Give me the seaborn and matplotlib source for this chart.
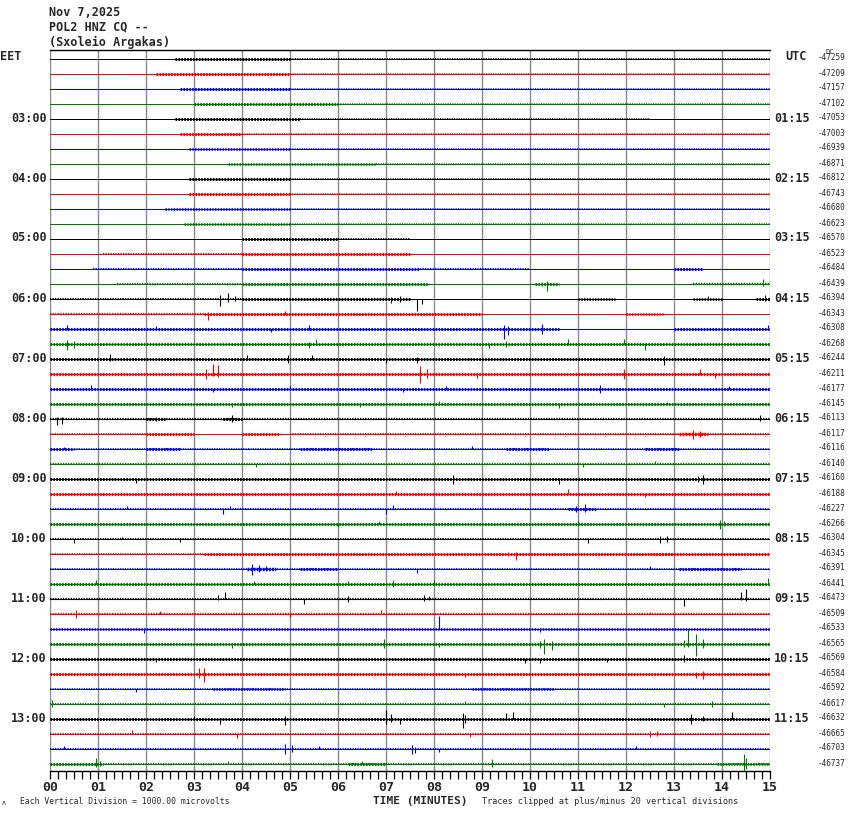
import numpy as np
import pandas as pd
import matplotlib
matplotlib.use("Agg")
import matplotlib.pyplot as plt
import seaborn as sns

# ---------------- data ----------------
header_lines = ["Nov 7,2025", "POL2 HNZ CQ --", "(Sxoleio Argakas)"]
left_hours = ["03:00", "04:00", "05:00", "06:00", "07:00", "08:00",
              "09:00", "10:00", "11:00", "12:00", "13:00"]
right_hours = ["01:15", "02:15", "03:15", "04:15", "05:15", "06:15",
               "07:15", "08:15", "09:15", "10:15", "11:15"]
hour_rows = [4, 8, 12, 16, 20, 24, 28, 32, 36, 40, 44]
dc_offsets = [-47259, -47209, -47157, -47102, -47053, -47003, -46939, -46871,
              -46812, -46743, -46680, -46623, -46570, -46523, -46484, -46439,
              -46394, -46343, -46308, -46268, -46244, -46211, -46177, -46145,
              -46113, -46117, -46116, -46140, -46160, -46188, -46227, -46266,
              -46304, -46345, -46391, -46441, -46473, -46509, -46533, -46565,
              -46569, -46584, -46592, -46617, -46632, -46665, -46703, -46737]
minute_labels = ["00", "01", "02", "03", "04", "05", "06", "07", "08",
                 "09", "10", "11", "12", "13", "14", "15"]
trace_colors = ["#000000", "#ff0000", "#0000ff", "#007800"]

# noise band segments per trace: (row, start minute, end minute, half-width in px)
noise_row = [0, 0, 1, 1, 2, 2, 3, 3, 4, 4, 5, 5, 6, 6, 7, 7, 8, 8, 9, 9, 10, 10, 11, 11,
             12, 12, 13, 13, 14, 14, 14, 14, 15, 15, 15, 15,
             16, 16, 16, 16, 16, 17, 17, 17, 18, 18, 19, 20, 21, 22, 23,
             24, 24, 24, 25, 25, 25, 25, 25, 26, 26, 26, 26, 26, 26, 27, 28, 29,
             30, 30, 31, 32, 33, 33, 33, 33, 34, 34, 34, 34, 35, 36, 37, 38, 39,
             40, 41, 42, 42, 42, 43, 44, 45, 46, 47, 47, 47, 47]
noise_start = [2.6, 5.0, 2.2, 5.0, 2.7, 5.0, 3.0, 6.0, 2.6, 5.2, 2.7, 4.0, 2.9, 5.0, 3.7, 6.8,
               2.9, 5.0, 2.9, 5.0, 2.4, 5.0, 2.8, 5.0,
               4.0, 6.0, 1.1, 4.0, 0.9, 4.0, 7.7, 13.0, 1.4, 4.0, 10.1, 13.4,
               0.0, 4.0, 11.0, 13.4, 14.7, 0.0, 3.2, 12.0, 0.0, 13.0, 0.0, 0.0, 0.0, 0.0, 0.0,
               0.0, 2.0, 3.6, 0.0, 2.0, 4.0, 5.0, 13.1, 0.0, 0.5, 2.0, 5.2, 9.5, 12.4, 0.0, 0.0, 0.0,
               0.0, 10.8, 0.0, 0.0, 0.0, 3.2, 3.9, 12.5, 0.0, 4.1, 5.2, 13.1, 0.0, 0.0, 0.0, 0.0, 0.0,
               0.0, 0.0, 0.0, 3.4, 8.8, 0.0, 0.0, 0.0, 0.0, 0.0, 1.1, 6.2, 13.9]
noise_end = [5.0, 15.0, 5.0, 15.0, 5.0, 15.0, 6.0, 15.0, 5.2, 12.5, 4.0, 15.0, 5.0, 15.0, 6.8, 15.0,
             5.0, 15.0, 5.0, 15.0, 5.0, 15.0, 5.0, 15.0,
             6.0, 7.5, 4.0, 7.5, 4.0, 7.7, 10.0, 13.6, 4.0, 7.9, 10.6, 15.0,
             4.0, 7.5, 11.8, 14.0, 15.0, 3.2, 9.0, 12.8, 10.6, 15.0, 15.0, 15.0, 15.0, 15.0, 15.0,
             15.0, 2.4, 4.0, 2.0, 3.0, 4.8, 15.0, 13.7, 0.5, 15.0, 2.7, 6.7, 10.4, 13.1, 15.0, 15.0, 15.0,
             15.0, 11.4, 15.0, 15.0, 3.2, 15.0, 3.9, 13.0, 15.0, 4.7, 6.0, 14.4, 15.0, 15.0, 15.0, 15.0, 15.0,
             15.0, 15.0, 15.0, 4.9, 10.5, 15.0, 15.0, 15.0, 15.0, 1.1, 15.0, 7.0, 15.0]
noise_hw = [1.0, 0.4, 1.0, 0.3, 1.0, 0.3, 1.0, 0.3, 1.0, 0.3, 1.0, 0.3, 0.8, 0.3, 0.8, 0.3,
            1.0, 0.3, 1.0, 0.3, 0.8, 0.3, 0.8, 0.3,
            1.0, 0.5, 0.5, 1.0, 0.5, 1.0, 0.5, 1.0, 0.5, 1.0, 1.0, 0.7,
            0.5, 1.0, 0.8, 0.8, 1.0, 0.6, 1.0, 0.8, 1.0, 1.0, 1.0, 1.0, 1.0, 1.0, 1.0,
            0.6, 1.0, 1.0, 0.4, 1.0, 1.0, 0.5, 1.2, 1.0, 0.4, 1.0, 1.0, 1.0, 1.0, 0.6, 1.0, 1.0,
            0.5, 1.0, 1.0, 0.5, 0.4, 1.0, 0.5, 1.0, 0.4, 1.2, 1.0, 1.0, 1.0, 0.6, 0.6, 0.8, 1.0,
            1.0, 1.0, 0.4, 0.8, 0.8, 0.5, 1.0, 0.5, 0.5, 1.0, 0.5, 1.0, 0.8]

# individual excursions: (row, minute, up px, down px)
spike_row = [15, 15, 15,
             16, 16, 16, 16, 16, 16, 16, 16, 16,
             17, 17,
             18, 18, 18, 18, 18, 18, 18, 18,
             19, 19, 19, 19, 19, 19, 19, 19, 19,
             20, 20, 20, 20, 20, 20, 20,
             21, 21, 21, 21, 21, 21, 21, 21, 21,
             22, 22, 22, 22, 22, 22, 22,
             23, 23, 23, 23, 23,
             24, 24, 24, 24, 24,
             25, 25, 26, 26, 27, 27, 27,
             28, 28, 28, 28, 28,
             29, 29, 29,
             30, 30, 30, 30, 30, 30, 30,
             31, 31, 31, 31, 31,
             32, 32, 32, 32, 32, 32,
             33, 33,
             34, 34, 34, 34, 34,
             35, 35, 35, 35, 35, 35,
             36, 36, 36, 36, 36, 36, 36, 36, 36,
             37, 37, 37, 37, 37,
             38, 38, 38,
             39, 39, 39, 39, 39, 39, 39, 39, 39, 39,
             40, 40, 40, 40, 40,
             41, 41, 41, 41, 41,
             42,
             43, 43, 43, 43,
             44, 44, 44, 44, 44, 44, 44, 44, 44, 44, 44, 44, 44,
             45, 45, 45, 45, 45,
             46, 46, 46, 46, 46, 46, 46, 46,
             47, 47, 47, 47, 47, 47, 47]
spike_min = [10.35, 10.25, 14.85,
             3.55, 3.7, 3.85, 7.1, 7.3, 7.65, 7.75, 13.7, 14.9,
             3.3, 4.9,
             0.35, 2.2, 4.6, 5.4, 9.45, 9.55, 10.25, 14.95,
             0.35, 0.5, 5.4, 5.55, 9.15, 9.5, 10.8, 11.95, 12.4,
             1.25, 4.1, 4.95, 5.45, 7.0, 7.65, 12.8,
             3.25, 3.4, 3.5, 7.7, 7.85, 8.9, 11.95, 13.55, 13.85,
             0.85, 3.4, 5.0, 7.35, 8.25, 11.45, 14.15,
             3.8, 6.45, 8.1, 10.6, 12.85,
             0.15, 0.25, 2.2, 3.8, 14.8,
             13.4, 13.55, 0.3, 8.8, 4.3, 11.1, 12.6,
             1.8, 8.4, 10.6, 13.6, 13.5,
             7.2, 10.8, 12.4,
             1.6, 3.6, 3.75, 7.0, 7.15, 10.95, 11.15,
             6.0, 6.85, 11.0, 13.95, 14.05,
             0.5, 1.5, 2.7, 11.2, 12.7, 12.85,
             9.7, 9.55,
             4.2, 4.35, 4.5, 7.65, 12.5,
             0.95, 4.25, 6.2, 7.15, 8.0, 14.95,
             3.5, 3.65, 5.3, 6.2, 7.8, 7.9, 13.2, 14.4, 14.5,
             0.55, 2.3, 5.0, 6.9, 12.5,
             1.95, 8.1, 10.2,
             3.8, 8.1, 6.95, 10.3, 10.45, 10.2, 13.3, 13.45, 13.6, 13.2,
             2.2, 9.9, 10.2, 11.6, 13.2,
             3.1, 3.2, 8.65, 13.6, 13.45,
             1.8,
             0.05, 8.65, 12.8, 13.8,
             3.55, 3.0, 4.9, 7.0, 7.1, 7.3, 8.6, 8.65, 9.5, 9.65, 13.35, 13.6, 14.2,
             1.7, 3.9, 8.75, 12.5, 12.65,
             0.3, 4.9, 5.05, 5.6, 7.55, 7.6, 8.1, 12.2,
             0.95, 1.05, 3.7, 6.5, 9.2, 14.45, 14.5]
spike_up = [3, 2, 5,
            4, 6, 3, 2, 3, 0, 0, 3, 4,
            2, 3,
            4, 3, 0, 4, 4, 3, 5, 4,
            4, 3, 2, 5, 0, 3, 5, 5, 0,
            5, 4, 4, 4, 0, 2, 3,
            5, 10, 9, 8, 5, 0, 5, 5, 0,
            4, 0, 3, 0, 3, 4, 3,
            0, 0, 3, 0, 2,
            2, 2, 2, 4, 4,
            4, 3, 2, 3, 0, 0, 3,
            0, 4, 0, 4, 3,
            3, 5, 0,
            3, 0, 3, 0, 4, 3, 5,
            0, 3, 3, 4, 3,
            0, 2, 0, 0, 3, 3,
            2, 2,
            5, 4, 3, 0, 3,
            4, 3, 3, 4, 4, 6,
            4, 7, 0, 3, 4, 3, 0, 7, 10,
            4, 3, 2, 4, 2,
            0, 13, 0,
            0, 0, 5, 5, 3, 3, 15, 10, 5, 4,
            0, 0, 0, 0, 4,
            6, 6, 0, 3, 2,
            0,
            4, 3, 0, 3,
            0, 3, 3, 9, 5, 0, 6, 4, 6, 7, 5, 3, 7,
            4, 0, 0, 3, 3,
            3, 5, 4, 3, 4, 2, 0, 3,
            6, 3, 3, 3, 5, 10, 6]
spike_down = [7, 2, 2,
              7, 3, 2, 4, 3, 12, 5, 1, 2,
              6, 1,
              1, 0, 3, 1, 10, 6, 5, 1,
              6, 4, 4, 0, 4, 3, 1, 1, 6,
              2, 1, 4, 1, 4, 4, 6,
              5, 2, 3, 9, 4, 4, 5, 1, 4,
              1, 3, 0, 3, 1, 4, 0,
              3, 3, 0, 4, 0,
              6, 5, 2, 3, 2,
              5, 3, 0, 0, 3, 3, 0,
              4, 5, 5, 5, 3,
              0, 0, 3,
              0, 5, 0, 5, 0, 3, 3,
              3, 0, 0, 5, 2,
              4, 0, 3, 4, 4, 3,
              6, 2,
              6, 3, 2, 4, 0,
              0, 0, 0, 3, 0, 0,
              1, 0, 5, 3, 2, 1, 7, 1, 2,
              4, 0, 3, 0, 0,
              4, 0, 3,
              4, 3, 4, 10, 6, 4, 3, 12, 4, 3,
              3, 4, 4, 3, 3,
              4, 8, 3, 5, 4,
              3,
              3, 0, 3, 3,
              5, 0, 6, 5, 3, 5, 9, 4, 0, 0, 5, 2, 0,
              0, 4, 3, 3, 2,
              0, 5, 3, 0, 5, 4, 3, 0,
              3, 2, 0, 0, 3, 7, 5]

# ---------------- figure ----------------
W, H = 850, 814
ROW_PX = 15
N_ROWS = len(dc_offsets)
PX = 0.72  # points per pixel at dpi 100

sns.set_theme(style="white")
plt.rcParams["font.family"] = ["DejaVu Sans Mono", "DejaVu Sans"]
plt.rcParams["lines.scale_dashes"] = False

fig = plt.figure(figsize=(W / 100, H / 100), dpi=100)
fig.patch.set_facecolor("white")
ax = fig.add_axes([50 / W, 1 - 771 / H, 720 / W, 721 / H])
ax.set_facecolor("white")


def base(r):
    return -ROW_PX * r


# baselines via seaborn
rows = np.arange(N_ROWS)
df = pd.DataFrame({
    "minute": np.concatenate([np.zeros(N_ROWS), np.full(N_ROWS, 15.0)]),
    "y": np.concatenate([base(rows), base(rows)]),
    "row": np.concatenate([rows, rows]),
    "chan": np.concatenate([rows % 4, rows % 4]).astype(str),
})
sns.lineplot(data=df, x="minute", y="y", hue="chan", units="row", estimator=None,
             palette={str(i): c for i, c in enumerate(trace_colors)},
             linewidth=1.0 * PX, legend=False, ax=ax, zorder=3)

# noise texture: comb-like dashed strokes over the baseline
for r, s, e, hw in zip(noise_row, noise_start, noise_end, noise_hw):
    b = base(r)
    ax.hlines(b, s, e, colors=trace_colors[r % 4], lw=(2 * hw + 1) * PX,
              linestyles=(0, (0.6 + 0.6 * hw, 0.9)), zorder=3)

# spikes
sp = pd.DataFrame({"row": spike_row, "m": spike_min, "up": spike_up, "dn": spike_down})
for c in range(4):
    sub = sp[sp["row"] % 4 == c]
    ax.vlines(sub["m"], base(sub["row"]) - sub["dn"], base(sub["row"]) + sub["up"],
              color=trace_colors[c], lw=1.1 * PX, zorder=3)

# grid
for m in range(16):
    ax.axvline(m, color="#888888", lw=1.4 * PX, zorder=1)

ax.set_xlim(0, 15)
ax.set_ylim(base(N_ROWS - 1) - 7.5, 8.5)
for s in ["left", "right"]:
    ax.spines[s].set_visible(False)
ax.spines["top"].set_color("black")
ax.spines["top"].set_linewidth(1.0)
ax.spines["bottom"].set_color("black")
ax.spines["bottom"].set_linewidth(1.0)
ax.set_yticks([])
ax.set_xticks(range(16))
ax.set_xticks(np.arange(0, 15.001, 1 / 6), minor=True)
ax.set_xticklabels(minute_labels, fontsize=9.5, fontweight="bold",
                   fontfamily="DejaVu Sans Mono")
ax.tick_params(axis="x", which="both", direction="out", length=6, width=0.9,
               color="black", pad=1.5, bottom=True)
ax.set_xlabel("")
ax.set_ylabel("")


def ftext(x, y, s, **kw):
    fig.text(x / W, 1 - y / H, s, **kw)


# header
for i, line in enumerate(header_lines):
    ftext(49, 12 + 15 * i, line, fontsize=8.5, fontweight="bold", va="center", ha="left")

ftext(0, 57, "EET", fontsize=8.5, fontweight="bold", va="center", ha="left")
ftext(785, 57, "UTC", fontsize=8.5, fontweight="bold", va="center", ha="left")
ftext(826, 52, "DC", fontsize=5, va="center", ha="left")

for lab, r in zip(left_hours, hour_rows):
    ftext(47, 58 + ROW_PX * r, lab, fontsize=8.5, fontweight="bold", va="center", ha="right")
for lab, r in zip(right_hours, hour_rows):
    ftext(774, 58 + ROW_PX * r, lab, fontsize=8.5, fontweight="bold", va="center", ha="left")
for r, v in enumerate(dc_offsets):
    ftext(818, 58 + ROW_PX * r, str(v), fontsize=5.5, va="center", ha="left")

ftext(373, 801, "TIME (MINUTES)", fontsize=8, fontweight="bold", va="center", ha="left")
ftext(20, 802, "Each Vertical Division = 1000.00 microvolts", fontsize=5.8,
      va="center", ha="left")
ftext(482, 802, "Traces clipped at plus/minus 20 vertical divisions", fontsize=6.1,
      va="center", ha="left")
ftext(2, 803, "ᴧ", fontsize=5, va="center", ha="left")

fig.savefig("out.png", dpi=100, facecolor="white")
